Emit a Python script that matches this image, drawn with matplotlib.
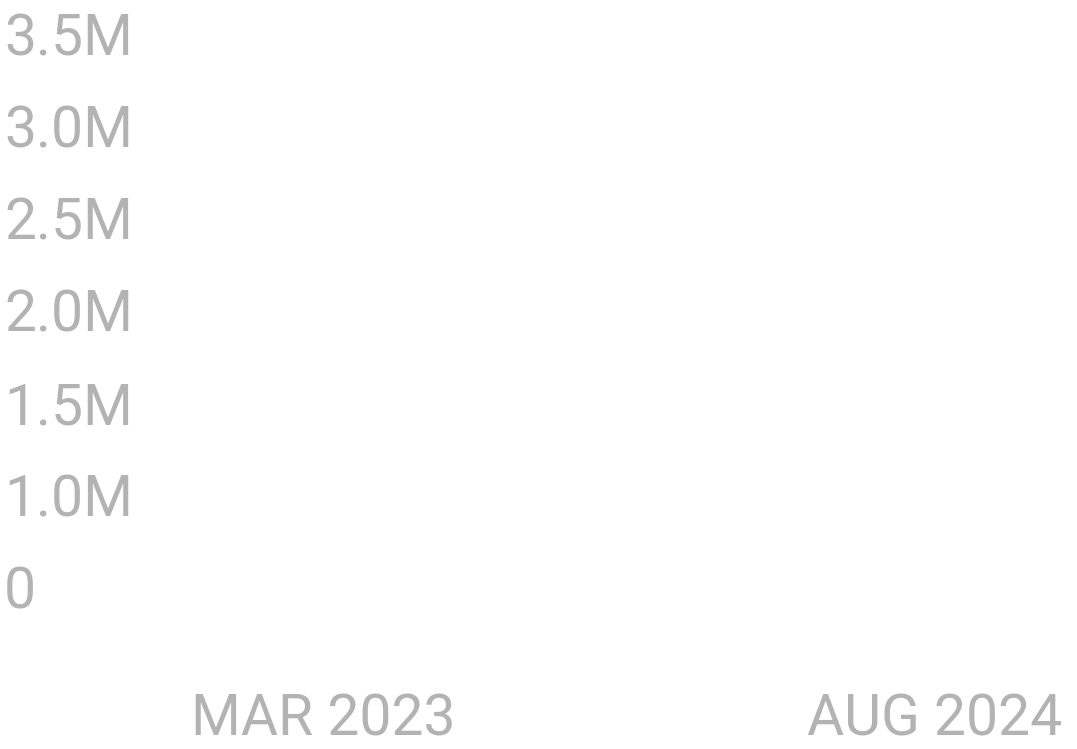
import matplotlib
matplotlib.use("Agg")
import matplotlib.pyplot as plt

# Data (chart shows only axis labels; no visible series)
y_tick_labels = ["0", "1.0M", "1.5M", "2.0M", "2.5M", "3.0M", "3.5M"]
x_tick_months = [(2023, 3), (2024, 8)]
x_tick_labels = ["MAR 2023", "AUG 2024"]

TEXT_COLOR = "#b3b3b3"
FONT = ["Roboto", "DejaVu Sans"]

W, H = 1077, 749
fig = plt.figure(figsize=(W / 100, H / 100), dpi=100)
fig.patch.set_facecolor("white")

left_px, right_px = 4, 1077
top_px, bottom_px = 34, 587
ax = fig.add_axes([left_px / W, (H - bottom_px) / H,
                   (right_px - left_px) / W, (bottom_px - top_px) / H])
ax.set_facecolor("white")
for s in ax.spines.values():
    s.set_visible(False)

# y axis: evenly spaced categorical ticks
ypos = list(range(len(y_tick_labels)))
ax.set_ylim(0, len(y_tick_labels) - 1)
ax.set_yticks(ypos)
ax.set_yticklabels(y_tick_labels)

# x axis: month index
def midx(ym):
    return ym[0] * 12 + (ym[1] - 1)

xs = [midx(m) for m in x_tick_months]
px_per_month = (935 - 323) / (xs[1] - xs[0])
x0 = xs[0] - (323 - left_px) / px_per_month
x1 = xs[0] + (right_px - 323) / px_per_month
ax.set_xlim(x0, x1)
ax.set_xticks(xs)
ax.set_xticklabels(x_tick_labels)

ax.tick_params(axis="both", length=0, colors=TEXT_COLOR, labelsize=41)
ax.tick_params(axis="y", pad=0)
ax.tick_params(axis="x", pad=76)
for lab in ax.get_yticklabels():
    lab.set_horizontalalignment("left")
    lab.set_fontfamily(FONT)
for lab in ax.get_xticklabels():
    lab.set_fontfamily(FONT)

fig.savefig("out.png", dpi=100, facecolor="white")
